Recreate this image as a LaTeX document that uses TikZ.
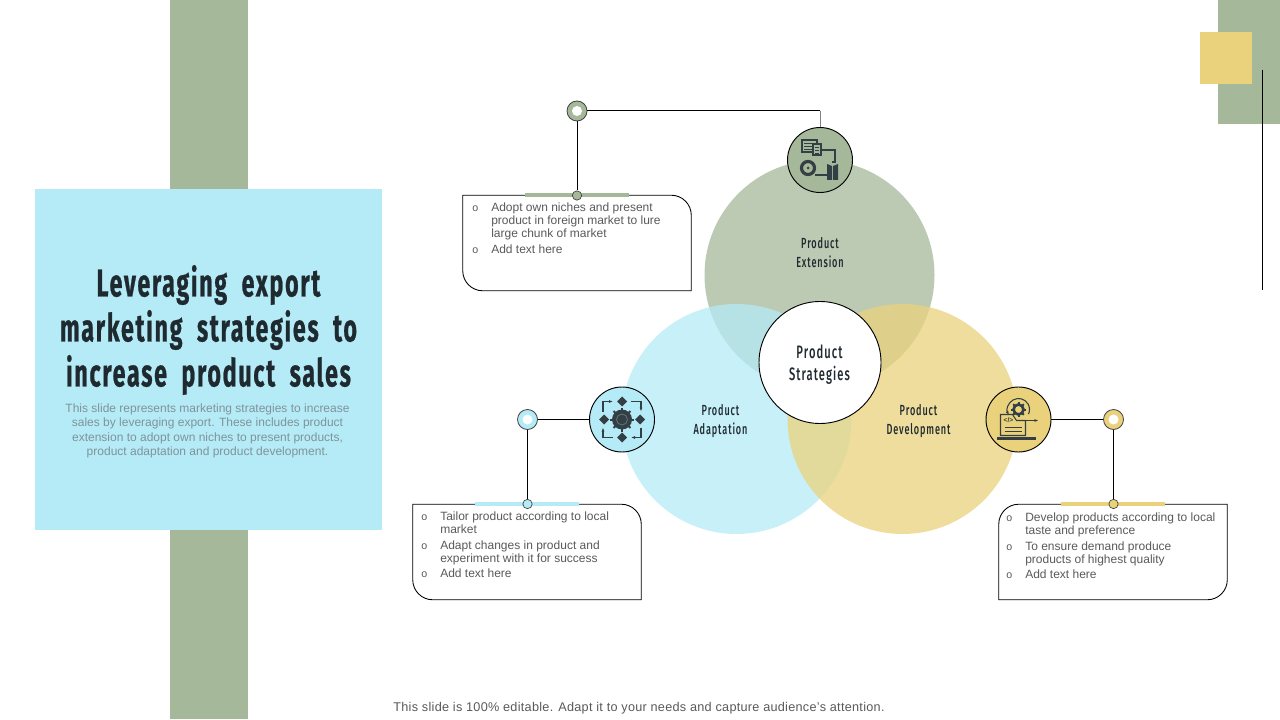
\documentclass[tikz,border=0pt]{standalone}
\usepackage{fontspec}
\usepackage{array}
\setmainfont{Liberation Sans}
\newfontfamily\headfont[FakeStretch=0.6,LetterSpace=4.5,WordSpace=2,FakeBold=0.6]{Fira Sans Bold}
\newfontfamily\petalfont[FakeStretch=0.62,LetterSpace=6]{Fira Sans Medium}
\usetikzlibrary{positioning,arrows.meta,calc}
\definecolor{sage}{HTML}{A5B89A}
\definecolor{sky}{HTML}{B5EBF6}
\definecolor{straw}{HTML}{EAD27C}
\definecolor{ink}{HTML}{1F2A30}
\definecolor{bodygray}{HTML}{595959}
\definecolor{subgray}{HTML}{7E939B}
\definecolor{icondark}{HTML}{333F44}
\tikzset{
  venn/.style={circle, minimum size=172.5pt, inner sep=0pt, fill opacity=0.75},
  iconring/.style={circle, draw=black, minimum size=48.75pt, inner sep=0pt, line width=0.7pt},
  pinring/.style={circle, draw=black!75, fill=#1, minimum size=15pt, inner sep=0pt, line width=0.6pt,
    path picture={\fill[white] (path picture bounding box.center) circle (5);}},
  pindot/.style={circle, draw=black!75, fill=#1, minimum size=7pt, inner sep=0pt, line width=0.5pt},
  wire/.style={line width=0.75pt, draw=black},
  notebox/.style={minimum width=171pt, minimum height=71.25pt, inner sep=0pt},
  noteline/.style={line width=0.65pt, draw=black},
  notetext/.style={inner sep=0pt, anchor=north west, text=bodygray, font=\fontsize{9}{9.75}\selectfont},
  petal/.style={font=\petalfont\fontsize{11}{14.25}\selectfont, text=ink, align=center, inner sep=0pt},
  icondraw/.style={draw=icondark, line width=0.8pt},
  iconfill/.style={fill=icondark},
}
\newcommand{\bul}{\leavevmode{\fontsize{8}{8}\selectfont o}}
\newcommand{\gearshape}[3]{% centre, radius, teeth length
  \foreach \a in {0,45,...,315}{\draw[icondark, line width=1.5pt] ($(#1)+(\a:#2)$) -- ($(#1)+(\a:#2+#3)$);}
}
\begin{document}
\begin{tikzpicture}[x=0.75pt,y=-0.75pt]
  \useasboundingbox (0,0) rectangle (1280,720);
  % background panels
  \fill[sage] (170,0) rectangle (248,719);
  \fill[sky] (35,189) rectangle (382,530);
  \fill[sage] (1218,0) rectangle (1280,124);
  \fill[straw] (1200,32) rectangle (1252,84);
  \coordinate (railtop) at (1262,70);
  \coordinate (railend) at (1262,290);
  \draw[wire] (railtop) -- (railend);

  \node (titletext) [font=\headfont\fontsize{29}{33.75}\selectfont, text=ink, align=center, inner sep=0pt] at (208.5,330)
    {Leveraging export\\marketing strategies to\\increase product sales};
  \node (subtext) [font=\fontsize{9}{10.7}\selectfont, text=subgray, align=center, inner sep=0pt] at (207.5,431)
    {This slide represents marketing strategies to increase\\sales by leveraging export. These includes product\\extension to adopt own niches to present products,\\product adaptation and product development.};

  % venn circles
  \node (vennext) [venn, fill=sage] at (819.5,275) {};
  \node (vennada) [venn, fill=sky] at (736.5,419) {};
  \node (venndev) [venn, fill=straw] at (902.5,419) {};
  \node (hub) [circle, draw=black, fill=white, minimum size=91.5pt, inner sep=0pt, line width=0.7pt] at (820,362.5) {};
  \node (hubtext) [font=\petalfont\fontsize{13.5}{16.5}\selectfont, text=ink, align=center, inner sep=0pt] at (819.5,365) {Product\\Strategies};
  \node (labelext) [petal] at (820,252.5) {Product\\Extension};
  \node (labelada) [petal] at (720.5,421) {Product\\Adaptation};
  \node (labeldev) [petal] at (918.5,421) {Product\\Development};

  % icon discs
  \node (iconext) [iconring, fill=sage] at (820,160) {};
  \node (iconada) [iconring, fill=sky] at (622,419.5) {};
  \node (icondev) [iconring, fill=straw] at (1018.5,419.5) {};

  % note boxes
  \node (noteext) [notebox] at (577,243) {};
  \node (noteada) [notebox] at (527,552) {};
  \node (notedev) [notebox] at (1113,552) {};
  \foreach \b in {noteext,noteada}{
    \draw[noteline] (\b.north west) -- ([xshift=-15pt]\b.north east) to[out=0,in=90] ([yshift=-15pt]\b.north east)
       -- (\b.south east) -- ([xshift=15pt]\b.south west) to[out=180,in=-90] ([yshift=15pt]\b.south west) -- cycle;}
  \draw[noteline] ([xshift=15pt]notedev.north west) -- (notedev.north east) -- ([yshift=15pt]notedev.south east)
       to[out=-90,in=0] ([xshift=-15pt]notedev.south east) -- (notedev.south west) -- ([yshift=-15pt]notedev.north west)
       to[out=90,in=180] cycle;
  \foreach \b/\c in {noteext/sage,noteada/sky,notedev/straw}{
    \draw[\c, line width=3pt] ([xshift=-39pt]\b.north) -- ([xshift=39pt]\b.north);}

  \node (textext) [notetext] at (472,202.5) {\begin{tabular}{@{}p{14.25pt}@{}l@{}}
    \bul & Adopt own niches and present\\
         & product in foreign market to lure\\
         & large chunk of market\\[1.8pt]
    \bul & Add text here\end{tabular}};
  \node (textada) [notetext] at (421,511.5) {\begin{tabular}{@{}p{14.25pt}@{}l@{}}
    \bul & Tailor product according to local\\
         & market\\[1.8pt]
    \bul & Adapt changes in product and\\
         & experiment with it for success\\[1.8pt]
    \bul & Add text here\end{tabular}};
  \node (textdev) [notetext] at (1006,512.5) {\begin{tabular}{@{}p{14.25pt}@{}l@{}}
    \bul & Develop products according to local\\
         & taste and preference\\[1.8pt]
    \bul & To ensure demand produce\\
         & products of highest quality\\[1.8pt]
    \bul & Add text here\end{tabular}};

  % connectors
  \node (ringext) [pinring=sage] at (577,111) {};
  \node (ringada) [pinring=sky] at (527.5,419.5) {};
  \node (ringdev) [pinring=straw] at (1113.5,419.5) {};
  \node (dotext) [pindot=sage] at (577,195.5) {};
  \node (dotada) [pindot=sky] at (527.5,504) {};
  \node (dotdev) [pindot=straw] at (1113.5,504) {};
  \coordinate (elbowext) at (ringext -| iconext);
  \draw[wire] (ringext) -- (elbowext);
  \draw[line width=0.5pt, black!50] (elbowext) -- (iconext);
  \draw[wire] (ringext) -- (dotext);
  \draw[wire] (ringada) -- (iconada);
  \draw[wire] (ringada) -- (dotada);
  \draw[wire] (icondev) -- (ringdev);
  \draw[wire] (ringdev) -- (dotdev);

  % icon: extension
  \begin{scope}[shift={(iconext)}]
    \draw[icondraw] (-18,-20) rectangle (-3,-8);
    \draw[icondraw, fill=sage] (-7,-16) rectangle (1,-5);
    \foreach \y in {-17,-14,-11}{\draw[icondark, line width=0.5pt] (-16,\y) -- (-8,\y);}
    \foreach \y in {-13,-10,-7}{\draw[icondark, line width=0.5pt] (-5,\y) -- (-1,\y);}
    \draw[icondraw] (1,-10) -- (15,-10) -- (15,2) -- (12,2);
    \draw[icondark, line width=2.4pt] (-12,8) circle (6.5);
    \fill[icondark] (-12,8) circle (1.5);
    \draw[icondraw] (-5,15) -- (7,15);
    \fill[icondark] (7,4) -- (12,6) -- (12,20) -- (7,20) -- cycle;
    \fill[icondark] (13,6) -- (18,4) -- (18,20) -- (13,20) -- cycle;
  \end{scope}

  % icon: adaptation
  \begin{scope}[shift={(iconada)}]
    \foreach \x/\y in {0/-18,0/18,-18/0,18/0}{\fill[icondark] (\x,\y-5) -- (\x+5,\y) -- (\x,\y+5) -- (\x-5,\y) -- cycle;}
    \gearshape{0,0}{9}{3}
    \fill[icondark] (0,0) circle (10);
    \draw[black!50!sky, line width=0.6pt] (0,0) circle (5.5);
    \draw[icondark, line width=1pt, -{Latex[length=3pt]}] (-19,-8) -- (-19,-18) -- (-9,-18);
    \draw[icondark, line width=1pt, -{Latex[length=3pt]}] (9,-18) -- (19,-18) -- (19,-8);
    \draw[icondark, line width=1pt, -{Latex[length=3pt]}] (19,8) -- (19,18) -- (9,18);
    \draw[icondark, line width=1pt, -{Latex[length=3pt]}] (-9,18) -- (-19,18) -- (-19,8);
  \end{scope}

  % icon: development
  \begin{scope}[shift={(icondev)}]
    \draw[icondraw, {Latex[length=3pt]}-] (-9.5,-4.5) arc (150:385:11);
    \draw[icondraw, fill=straw] (-18,-5) -- (-6,-5) -- (-2,1) -- (7,1) -- (7,16) -- (-18,16) -- cycle;
    \fill[icondark] (-22,17) rectangle (17,20);
    \foreach \y/\e in {8/3,12/3}{\draw[icondark, line width=0.6pt] (-14,\y) -- (\e,\y);}
    \node (codetag) [font=\fontsize{5}{5}\selectfont\bfseries, text=icondark, inner sep=0pt] at (-10,1) {</>};
    \gearshape{0,-10}{5}{2.5}
    \draw[icondark, line width=2pt, fill=straw] (0,-10) circle (5);
    \draw[icondark, line width=0.8pt, -{Latex[length=3pt]}] (2,1) -- (20,1);
  \end{scope}

  \node (footnote) [font=\addfontfeature{LetterSpace=2.2}\fontsize{9.5}{11}\selectfont, text=bodygray, inner sep=0pt] at (639,708.5)
    {This slide is 100\% editable. Adapt it to your needs and capture audience's attention.};
\end{tikzpicture}
\end{document}
